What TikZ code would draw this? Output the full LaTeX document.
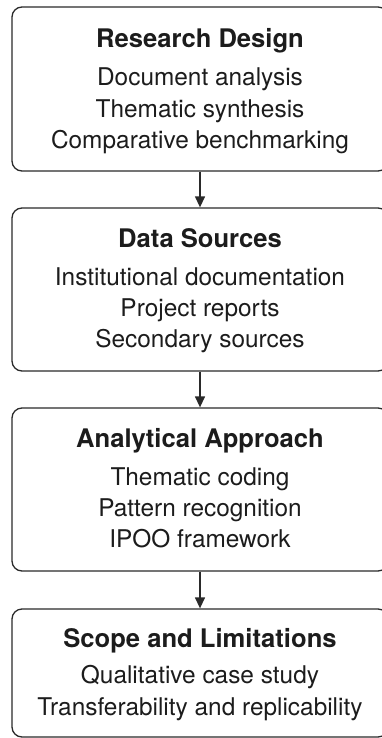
\documentclass[tikz,border=0pt]{standalone}
\usepackage{fontspec}
\setmainfont{TeX Gyre Heros}
\usetikzlibrary{arrows.meta}
\definecolor{ink}{HTML}{1C1C1C}
\definecolor{frame}{HTML}{2A2A2A}
\tikzset{
  x=1pt, y=-1pt,
  stagebox/.style={draw=frame, line width=1.3pt, rounded corners=10pt,
    minimum width=376pt, inner sep=0pt, fill=white},
  headline/.style={anchor=base, text=ink, inner sep=0pt,
    font=\fontsize{25.6}{28}\selectfont\bfseries},
  itemline/.style={anchor=base, text=ink, inner sep=0pt,
    font=\fontsize{24.4}{28}\selectfont},
  flow/.style={draw=frame, line width=1.3pt,
    -{Triangle[length=11pt,width=10pt]}}
}
\begin{document}
\begin{tikzpicture}
\useasboundingbox (0,0) rectangle (382,738);
\fill[white] (0,0) rectangle (382,738);

% stage frames
\node[stagebox, minimum height=164pt] (b1) at (200,89) {};
\node[stagebox, minimum height=163pt] (b2) at (200,289.5) {};
\node[stagebox, minimum height=163pt] (b3) at (200,489.5) {};
\node[stagebox, minimum height=128pt] (b4) at (200,673) {};

% stage 1
\node[headline] (t1) at (200,48) {Research Design};
\node[itemline] (l11) at (200,86) {Document analysis};
\node[itemline] (l12) at (200,117.5) {Thematic synthesis};
\node[itemline] (l13) at (200,149) {Comparative benchmarking};

% stage 2
\node[headline] (t2) at (200,247) {Data Sources};
\node[itemline] (l21) at (200,285) {Institutional documentation};
\node[itemline] (l22) at (200,316) {Project reports};
\node[itemline] (l23) at (200,347) {Secondary sources};

% stage 3
\node[headline] (t3) at (200,447) {Analytical Approach};
\node[itemline] (l31) at (200,485) {Thematic coding};
\node[itemline] (l32) at (200,516) {Pattern recognition};
\node[itemline] (l33) at (200,547) {IPOO framework};

% stage 4
\node[headline] (t4) at (200,647) {Scope and Limitations};
\node[itemline] (l41) at (200,683) {Qualitative case study};
\node[itemline] (l42) at (200,715) {Transferability and replicability};

% connectors
\draw[flow] (b1.south) -- (b2.north);
\draw[flow] (b2.south) -- (b3.north);
\draw[flow] (b3.south) -- (b4.north);
\end{tikzpicture}
\end{document}
